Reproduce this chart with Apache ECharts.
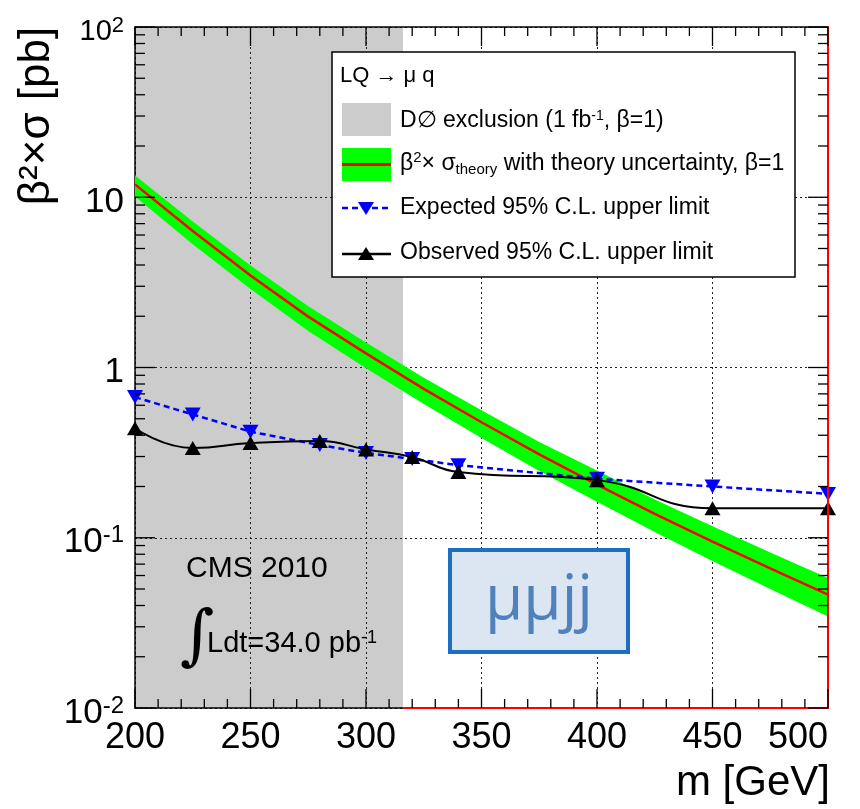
<!DOCTYPE html>
<html><head><meta charset="utf-8">
<script src="https://cdn.jsdelivr.net/npm/echarts@6/dist/echarts.min.js"></script>
<style>html,body{margin:0;padding:0;background:#fff}#c{width:860px;height:809px}</style>
</head><body><div id="c"></div>
<script>
// ---------- data ----------
const exclusionRange = [200, 316];          // D0 excluded mass range (GeV)
const theoryMass = [200, 225, 250, 275, 300, 325, 350, 375, 400, 425, 450, 475, 500];
const theoryXsec = [11.9, 6.33, 3.47, 1.99, 1.21, 0.749, 0.477, 0.309, 0.205, 0.138, 0.0949, 0.0661, 0.0463];
const theoryUp   = [13.4, 7.2, 3.97, 2.29, 1.40, 0.87, 0.56, 0.365, 0.248, 0.168, 0.117, 0.082, 0.058];
const theoryDown = [10.1, 5.3, 2.89, 1.64, 0.99, 0.61, 0.385, 0.247, 0.163, 0.108, 0.073, 0.050, 0.0345];
const limitMass  = [200, 225, 250, 280, 300, 320, 340, 400, 450, 500];
const expectedLimit = [0.67, 0.53, 0.42, 0.35, 0.315, 0.29, 0.267, 0.222, 0.20, 0.181];
const observedLimit = [0.44, 0.337, 0.36, 0.37, 0.33, 0.298, 0.243, 0.218, 0.149, 0.149];
const xMin = 200, xMax = 500, xStep = 50;
const yMin = 0.01, yMax = 100;
const xMajorTicks = [200, 250, 300, 350, 400, 450, 500];
const xMinorTicks = [210,220,230,240, 260,270,280,290, 310,320,330,340, 360,370,380,390,
                     410,420,430,440, 460,470,480,490];
const yMajorTicks = [0.01, 0.1, 1, 10, 100];
const yTickExponents = [-2, -1, 0, 1, 2];
const yTickLabels = ['{b|10}{s|-2}', '{b|10}{s|-1}', '{b|1}', '{b|10}', '{t|10}{ts|2}'];
const yMinorTicks = [0.02,0.03,0.04,0.05,0.06,0.07,0.08,0.09,
                     0.2,0.3,0.4,0.5,0.6,0.7,0.8,0.9,
                     2,3,4,5,6,7,8,9,
                     20,30,40,50,60,70,80,90];

const FONT = 'Liberation Sans, Arial, Helvetica, sans-serif';
const pair = (xs, ys) => xs.map((x, i) => [x, ys[i]]);

const chart = echarts.init(document.getElementById('c'), null, {renderer: 'canvas'});

const gridDotted = {show: true, lineStyle: {color: '#222', width: 1, type: [2, 3]}};

const option = {
  animation: false,
  backgroundColor: '#fff',
  grid: {left: 135, right: 32, top: 27, bottom: 101, containLabel: false},
  xAxis: [
    {type: 'value', position: 'bottom', min: xMin, max: xMax, interval: xStep,
     axisLine: {show: true, onZero: false, lineStyle: {color: '#000', width: 1.5}},
     axisTick: {show: false},
     axisLabel: {show: true, fontSize: 36, fontFamily: FONT, color: '#000', margin: 12, alignMaxLabel: 'right'},
     splitLine: gridDotted},
    {type: 'value', position: 'top', min: xMin, max: xMax, interval: xStep,
     axisLine: {show: true, onZero: false, lineStyle: {color: '#000', width: 1.5}},
     axisTick: {show: false}, axisLabel: {show: false}, splitLine: {show: false}}
  ],
  yAxis: [
    {type: 'log', logBase: 10, position: 'left', min: yMin, max: yMax,
     axisLine: {show: true, onZero: false, lineStyle: {color: '#000', width: 1.5}},
     axisTick: {show: false},
     axisLabel: {show: true, margin: 11, color: '#000', fontFamily: FONT, padding: [10, 0, 0, 0],
       formatter: v => {
         const e = Math.round(Math.log10(v));
         const i = yTickExponents.indexOf(e);
         return i >= 0 ? yTickLabels[i] : '';
       },
       rich: {
         b: {fontSize: 35, fontFamily: FONT, color: '#000'},
         s: {fontSize: 24, fontFamily: FONT, color: '#000', verticalAlign: 'top', padding: [0, 0, 14, 0]},
         t: {fontSize: 29, fontFamily: FONT, color: '#000'},
         ts: {fontSize: 22, fontFamily: FONT, color: '#000', verticalAlign: 'top', padding: [0, 0, 12, 0]}
       }},
     splitLine: gridDotted},
    {type: 'log', logBase: 10, position: 'right', min: yMin, max: yMax, z: 9,
     axisLine: {show: true, onZero: false, lineStyle: {color: '#ff0000', width: 2}},
     axisTick: {show: false}, axisLabel: {show: false}, splitLine: {show: false}}
  ],
  series: [
    {name: 'D0 exclusion', type: 'custom', z: -1, silent: true,
     data: [[exclusionRange[0], exclusionRange[1]]],
     renderItem: (params, api) => {
       const p0 = api.coord([exclusionRange[0], yMax]);
       const p1 = api.coord([exclusionRange[1], yMin]);
       return {type: 'rect', shape: {x: p0[0], y: p0[1], width: p1[0] - p0[0], height: p1[1] - p0[1]},
               style: {fill: '#cccccc'}};
     }},
    {name: 'theory band', type: 'custom', z: 2, silent: true,
     data: [[theoryMass[0], theoryXsec[0]]],
     renderItem: (params, api) => {
       const pts = [];
       for (let i = 0; i < theoryMass.length; i++) pts.push(api.coord([theoryMass[i], theoryUp[i]]));
       for (let i = theoryMass.length - 1; i >= 0; i--) pts.push(api.coord([theoryMass[i], theoryDown[i]]));
       return {type: 'polygon', shape: {points: pts}, style: {fill: '#00ff00'}};
     }},
    {name: 'theory', type: 'line', z: 4, data: pair(theoryMass, theoryXsec), showSymbol: false, symbol: 'none',
     lineStyle: {color: '#ff0000', width: 2.5}},
    {name: 'Expected', type: 'line', z: 5, data: pair(limitMass, expectedLimit),
     symbol: 'triangle', symbolRotate: 180, symbolSize: [16, 14],
     itemStyle: {color: '#0000ff'}, lineStyle: {color: '#0000ff', width: 2.5, type: [6, 4]}},
    {name: 'Observed', type: 'line', z: 6, data: pair(limitMass, observedLimit), smooth: 0.5,
     symbol: 'triangle', symbolSize: [16, 14],
     itemStyle: {color: '#000'}, lineStyle: {color: '#000', width: 2}},
    {name: 'frame', type: 'line', z: 8, clip: false, silent: true, symbol: 'none',
     data: [[exclusionRange[1], yMin], [xMax, yMin]],
     lineStyle: {color: '#ff0000', width: 2}}
  ],
  graphic: [
    {type: 'text', z: 20, x: 37, y: 116, rotation: Math.PI / 2,
     style: {text: 'β²×σ [pb]', font: '44px ' + FONT, fill: '#000', align: 'center', verticalAlign: 'middle'}},
    {type: 'text', z: 20, x: 830, y: 783,
     style: {text: 'm [GeV]', font: '42px ' + FONT, fill: '#000', align: 'right', verticalAlign: 'middle'}},
    {type: 'rect', z: 30, shape: {x: 332, y: 52, width: 463, height: 225},
     style: {fill: '#fff', stroke: '#000', lineWidth: 1.5}},
    {type: 'text', z: 31, x: 340, y: 76,
     style: {text: 'LQ → μ q', font: '22px ' + FONT, fill: '#000', verticalAlign: 'middle'}},
    {type: 'rect', z: 31, shape: {x: 342, y: 103, width: 49, height: 33}, style: {fill: '#cccccc'}},
    {type: 'text', z: 31, x: 400, y: 121,
     style: {text: 'D∅ exclusion (1 fb{s|-1}, β=1)', font: '23px ' + FONT, fill: '#000', verticalAlign: 'middle',
             rich: {s: {fontSize: 14, fontFamily: FONT, fill: '#000', verticalAlign: 'top'}}}},
    {type: 'rect', z: 31, shape: {x: 342, y: 148, width: 49, height: 33}, style: {fill: '#00ff00'}},
    {type: 'line', z: 32, shape: {x1: 342, y1: 164.5, x2: 391, y2: 164.5}, style: {stroke: '#ff0000', lineWidth: 3}},
    {type: 'text', z: 31, x: 400, y: 164,
     style: {text: 'β{s|2}× σ{sub|theory} with theory uncertainty, β=1', font: '23px ' + FONT, fill: '#000', verticalAlign: 'middle',
             rich: {s: {fontSize: 15, fontFamily: FONT, fill: '#000', verticalAlign: 'top'},
                    sub: {fontSize: 15, fontFamily: FONT, fill: '#000', verticalAlign: 'bottom', padding: [12, 0, 0, 0]}}}},
    {type: 'line', z: 31, shape: {x1: 342, y1: 208, x2: 391, y2: 208},
     style: {stroke: '#0000ff', lineWidth: 2.5, lineDash: [6, 4]}},
    {type: 'polygon', z: 32, shape: {points: [[358, 202], [374, 202], [366, 215]]}, style: {fill: '#0000ff'}},
    {type: 'text', z: 31, x: 400, y: 208,
     style: {text: 'Expected 95% C.L. upper limit', font: '23px ' + FONT, fill: '#000', verticalAlign: 'middle'}},
    {type: 'line', z: 31, shape: {x1: 342, y1: 254, x2: 391, y2: 254}, style: {stroke: '#000', lineWidth: 2.5}},
    {type: 'polygon', z: 32, shape: {points: [[358, 260], [374, 260], [366, 247]]}, style: {fill: '#000'}},
    {type: 'text', z: 31, x: 400, y: 253,
     style: {text: 'Observed 95% C.L. upper limit', font: '23px ' + FONT, fill: '#000', verticalAlign: 'middle'}},
    {type: 'text', z: 20, x: 186, y: 569,
     style: {text: 'CMS 2010', font: '30px ' + FONT, fill: '#000', verticalAlign: 'middle'}},
    {type: 'text', z: 20, x: 180, y: 640,
     style: {text: '∫', font: '66px DejaVu Serif, serif', fill: '#000', verticalAlign: 'middle'}},
    {type: 'text', z: 20, x: 207, y: 644,
     style: {text: 'Ldt=34.0 pb{s|-1}', font: '29px ' + FONT, fill: '#000', verticalAlign: 'middle',
             rich: {s: {fontSize: 18, fontFamily: FONT, fill: '#000', verticalAlign: 'top'}}}},
    {type: 'rect', z: 20, shape: {x: 450, y: 550, width: 178, height: 102},
     style: {fill: '#dce6f2', stroke: '#1c6fc0', lineWidth: 4}},
    {type: 'text', z: 21, x: 539, y: 601,
     style: {text: 'μμjj', font: '62px Open Sans, Noto Sans, sans-serif', fill: '#4f81bd', align: 'center', verticalAlign: 'middle'}}
  ]
};
chart.setOption(option);

// ROOT-style inward ticks on all four sides, positioned through the grid's own scales
try {
  const toPx = (x, y) => chart.convertToPixel({gridIndex: 0}, [x, y]);
  const tickEls = [];
  const seg = (x1, y1, x2, y2) => tickEls.push({type: 'line', z: 40, silent: true,
    shape: {x1, y1, x2, y2}, style: {stroke: '#000', lineWidth: 1.3}});
  const addX = (v, len) => {
    const b = toPx(v, yMin), t = toPx(v, yMax);
    seg(b[0], b[1], b[0], b[1] - len);
    seg(t[0], t[1], t[0], t[1] + len);
  };
  const addY = (v, len) => {
    const l = toPx(xMin, v), r = toPx(xMax, v);
    seg(l[0], l[1], l[0] + len, l[1]);
    seg(r[0], r[1], r[0] - len, r[1]);
  };
  xMajorTicks.forEach(v => addX(v, 19));
  xMinorTicks.forEach(v => addX(v, 9));
  yMajorTicks.forEach(v => addY(v, 20));
  yMinorTicks.forEach(v => addY(v, 10));
  option.graphic = option.graphic.concat(tickEls);
  chart.setOption(option, true);
} catch (e) { console.error(e); }
</script>
</body></html>
